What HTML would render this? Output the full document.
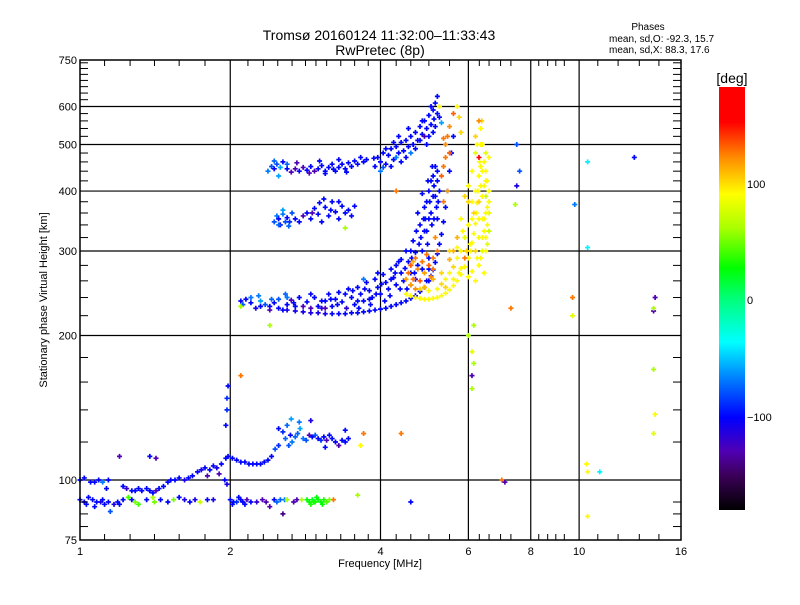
<!DOCTYPE html>
<html><head><meta charset="utf-8"><style>
body{margin:0;background:#fff;}
svg text{font-family:"Liberation Sans",sans-serif;fill:#000;}
</style></head><body>
<svg id="chart" width="800" height="600" viewBox="0 0 800 600" xmlns="http://www.w3.org/2000/svg">
<defs>
<linearGradient id="cbar" x1="0" y1="1" x2="0" y2="0">
<stop offset="0" stop-color="#000"/>
<stop offset="0.083" stop-color="#3c005a"/>
<stop offset="0.139" stop-color="#5000b4"/>
<stop offset="0.219" stop-color="#0000ff"/>
<stop offset="0.306" stop-color="#0078ff"/>
<stop offset="0.397" stop-color="#00ffff"/>
<stop offset="0.5" stop-color="#00ff78"/>
<stop offset="0.572" stop-color="#00ff00"/>
<stop offset="0.667" stop-color="#aaff00"/>
<stop offset="0.747" stop-color="#ffff00"/>
<stop offset="0.833" stop-color="#ff8c00"/>
<stop offset="0.917" stop-color="#ff0000"/>
<stop offset="1" stop-color="#ff0000"/>
</linearGradient>
</defs>
<text x="379" y="40" font-size="14" text-anchor="middle">Tromsø 20160124 11:32:00–11:33:43</text>
<text x="380" y="55" font-size="14" text-anchor="middle">RwPretec (8p)</text>
<g font-size="10">
<text x="648" y="30" text-anchor="middle">Phases</text>
<text x="609" y="42">mean, sd,O: -92.3, 15.7</text>
<text x="609" y="53">mean, sd,X:  88.3, 17.6</text>
</g>
<g id="grid"></g>
<g id="marks"></g>
<rect x="80" y="60" width="601" height="480" fill="none" stroke="#000" stroke-width="1.5"/>
<g id="axes"></g>
<text x="380" y="567" font-size="11" text-anchor="middle">Frequency [MHz]</text>
<text transform="translate(47,300) rotate(-90)" font-size="11" text-anchor="middle">Stationary phase Virtual Height [km]</text>
<rect x="719" y="87" width="26" height="423" fill="url(#cbar)"/>
<text x="732" y="83" font-size="14" text-anchor="middle">[deg]</text>
<text x="747" y="188" font-size="11">100</text>
<text x="747" y="304" font-size="11">0</text>
<text x="747" y="421" font-size="11">−100</text>
</svg>
<script>
const xMajorTicks = [1,2,4,6,8,10,16];
const xMajorLabels = ["1","2","4","6","8","10","16"];
const xMinorTicks = [1.12,1.26,1.41,1.58,1.78,2.17,2.33,2.49,2.66,2.83,2.97,3.12,3.33,3.55,3.78,4.3,4.6,5.0,5.5,6.31,6.6,6.96,7.3,8.3,8.65,8.98,9.34,10.9,11.97,13.2,14.45];
const yMajorTicks = [75,100,200,300,400,500,600,750];
const yMajorLabels = ["75","100","200","300","400","500","600","750"];
const yGrid = [100,200,300,400,500,600];
const yMinorTicks = [80,85,90,120,140,160,180,220,240,260,280,320,340,360,380,420,440,460,480,520,540,560,580,620,640,660,680,700,720,740];

const eLowPoints = [[1.0,91,-100],[1.02,90,-100],[1.04,92,-100],[1.06,91,-100],[1.08,90,-100],[1.1,90,-110],[1.12,89,-100],[1.14,90,-100],[1.17,89,-110],[1.19,90,-100],[1.22,91,-100],[1.25,92,40],[1.27,91,-100],[1.29,90,50],[1.31,89,40],[1.36,91,-100],[1.4,92,60],[1.41,90,50],[1.45,91,-100],[1.5,90,-100],[1.54,91,50],[1.58,92,-100],[1.62,91,-110],[1.66,90,-100],[1.7,91,-110],[1.74,90,70],[1.8,91,-100],[1.85,91,-110],[2.0,91,-100],[2.03,90,-100],[2.06,90,-90],[2.1,91,-100],[2.12,90,-100],[2.16,91,-130],[2.2,90,-100],[2.26,90,-120],[2.32,91,-130],[2.36,90,-130],[2.4,88,-130],[2.45,91,-100],[2.52,91,-75],[2.57,91,-70],[2.6,91,60],[2.68,90,-130],[2.72,91,-130],[2.78,91,60],[2.85,91,25],[2.88,90,25],[2.92,91,20],[2.96,90,30],[3.0,91,25],[3.04,90,25],[3.08,91,30],[3.12,90,40],[3.16,91,50],[3.22,91,125],[3.6,93,60],[2.55,85,-140],[1.07,88,-100],[1.15,86,-80],[2.02,89,-100],[2.08,92,-100],[2.9,89,30],[2.98,92,25],[1.03,89,-100],[1.11,91,-100],[1.2,89,-100],[2.14,89,-100],[2.48,90,-75],[3.06,89,25],[2.94,90,30]];
const eUpperPoints = [[1.0,100,-100],[1.02,101,-100],[1.05,99,-100],[1.07,99,-100],[1.09,100,-100],[1.11,99,-70],[1.14,100,-100],[1.13,96,-100],[1.22,97,-100],[1.24,96,-120],[1.27,95,-100],[1.29,95,-100],[1.31,96,-100],[1.33,95,-100],[1.36,96,-100],[1.38,95,-100],[1.40,94,-100],[1.42,95,-130],[1.44,96,-100],[1.47,97,-100],[1.5,99,-100],[1.52,100,-100],[1.55,100,-100],[1.58,101,-100],[1.62,100,-110],[1.65,101,-100],[1.68,102,-100],[1.72,104,-100],[1.75,105,-110],[1.78,106,-100],[1.82,105,-100],[1.85,107,-100],[1.88,106,-110],[1.92,108,-100],[1.96,111,-100],[1.98,112,-100],[2.02,111,-100],[2.06,110,-100],[2.1,109,-100],[2.14,109,-100],[2.18,108,-100],[2.22,108,-100],[2.26,108,-100],[2.3,108,-100],[2.34,109,-100],[2.38,110,-100],[2.42,112,-100],[2.46,116,-80],[2.5,118,-90],[1.38,112,-100],[1.42,111,-130],[1.2,112,-130],[1.8,102,-130],[1.9,103,-130],[1.95,100,-100],[1.97,98,-110],[1.96,130,-100],[1.97,140,-90],[1.97,148,-90],[1.98,157,-100]];
const eHighPoints = [[2.5,128,-100],[2.55,126,-90],[2.58,122,-75],[2.6,130,-75],[2.64,124,-100],[2.66,120,-70],[2.7,123,-75],[2.73,125,-75],[2.76,128,-60],[2.8,122,-70],[2.84,121,-80],[2.88,124,-130],[2.92,123,-100],[2.96,124,-80],[3.0,122,-100],[3.04,121,-90],[3.08,123,-100],[3.12,121,-130],[3.16,124,-100],[3.2,122,-100],[3.25,120,-100],[3.3,118,-130],[3.35,121,-100],[3.4,120,-100],[3.45,122,-100],[2.65,134,-60],[2.75,132,-70],[2.9,133,-110],[3.4,127,-100],[2.62,118,-80],[3.1,117,-100]];
const fLowTracePoints = [[2.1,236,-100],[2.2,234,-100],[2.3,230,-100],[2.4,230,-100],[2.5,228,-100],[2.6,226,-110],[2.7,225,-110],[2.8,224,-110],[2.9,223,-110],[3.0,223,-110],[3.1,222,-110],[3.2,222,-100],[3.3,222,-100],[3.4,222,-100],[3.5,223,-100],[3.6,223,-100],[3.7,224,-100],[3.8,225,-100],[3.9,226,-100],[4.0,227,-100],[4.1,228,-100],[4.2,230,-100],[4.3,232,-100],[4.4,234,-100],[4.5,236,-100],[4.6,239,-100],[4.7,242,-100],[4.8,247,-100],[4.9,252,-100],[5.0,260,-100],[5.05,266,-100],[5.1,274,-100],[5.15,284,-100],[5.2,296,-100],[5.25,310,-100],[5.3,325,-100],[5.35,345,-100],[5.4,370,-100],[5.45,400,-100],[5.5,440,-100],[5.55,480,-100],[5.6,520,-100]];
const fCloudPoints = [[2.15,238,-100],[2.2,240,-70],[2.3,236,-60],[2.35,232,-80],[2.45,234,-100],[2.5,238,-80],[2.6,232,-100],[2.65,237,-130],[2.7,230,-100],[2.75,240,-100],[2.85,235,-100],[2.95,240,-100],[3.0,230,-100],[3.05,236,-100],[3.15,244,-100],[3.2,230,-100],[3.25,238,-100],[3.3,246,-100],[3.35,235,-100],[3.45,250,-100],[3.5,240,-100],[3.55,232,-100],[3.6,252,-100],[3.65,244,-100],[3.7,236,-100],[3.75,258,-100],[3.8,248,-100],[3.85,240,-100],[3.9,262,-100],[3.95,252,-100],[4.0,244,-100],[4.05,268,-100],[4.1,258,-100],[4.15,250,-100],[4.2,275,-100],[4.25,264,-100],[4.3,255,-100],[4.35,285,-100],[4.4,270,-100],[4.45,260,-100],[4.5,300,-100],[4.55,285,-100],[4.6,270,-100],[4.65,315,-100],[4.7,298,-100],[4.75,280,-100],[4.8,340,-100],[4.82,320,-100],[4.85,300,-100],[4.9,370,-100],[4.92,350,-100],[4.95,330,-100],[4.97,310,-100],[5.0,400,-100],[5.02,380,-100],[5.05,360,-100],[5.07,340,-100],[5.1,430,-100],[5.12,410,-100],[5.15,390,-100],[5.18,370,-100],[5.2,350,-100],[5.15,450,-100],[5.2,420,-100],[5.25,400,-100],[5.0,290,-100],[4.6,255,-130],[2.9,228,-130],[3.1,228,-130],[2.6,240,-70],[2.4,226,-130],[4.95,260,-100],[5.0,275,-100],[3.1,236,-100],[3.4,244,-100],[3.8,238,-100],[4.2,262,-100],[4.4,288,-100],[4.6,300,-100],[4.75,360,-100],[4.85,395,-100],[2.25,228,-110],[2.55,226,-100],[3.6,236,-100]];
const fCloudExtraPoints = [[2.12,232,-80],[2.28,242,-70],[2.42,238,-75],[2.58,244,-75],[2.68,234,-100],[2.8,230,-130],[2.9,244,-100],[3.05,228,-120],[3.18,238,-100],[3.28,232,-100],[3.42,228,-120],[3.52,248,-100],[3.62,228,-100],[3.72,250,-100],[3.82,232,-100],[3.92,244,-100],[4.02,256,-100],[4.08,236,-100],[4.18,242,-100],[4.28,270,-100],[4.38,250,-100],[4.48,276,-100],[4.52,250,-100],[4.62,290,-100],[4.68,270,-100],[4.72,330,-100],[4.78,310,-100],[4.88,350,-100],[4.9,330,-100],[4.95,380,-100],[5.0,350,-100],[5.05,420,-100],[5.1,390,-100],[5.12,350,-100],[5.2,440,-100],[5.22,380,-100],[4.98,420,-100],[5.08,450,-100],[4.85,275,-100],[4.7,262,-130],[4.3,280,-100],[3.95,270,-100],[3.7,262,-70]];
const fUpperPoints = [[3.9,450,-100],[3.95,470,-100],[4.0,460,-100],[4.05,480,-100],[4.1,455,-100],[4.15,475,-100],[4.2,490,-100],[4.25,465,-100],[4.3,495,-100],[4.35,480,-100],[4.4,505,-100],[4.45,485,-100],[4.5,510,-100],[4.55,495,-100],[4.6,520,-100],[4.65,500,-100],[4.7,530,-100],[4.75,510,-100],[4.8,545,-100],[4.85,525,-100],[4.9,560,-100],[4.95,540,-100],[5.0,575,-100],[5.05,550,-100],[5.1,590,-100],[5.12,565,-100],[5.15,610,-100],[5.2,580,-100],[5.25,600,90],[5.2,630,-100],[5.3,555,-60],[4.95,500,-100],[4.5,470,-100],[4.2,450,-100],[5.05,600,-100],[5.1,530,-100],[4.0,440,-70],[4.3,470,-70],[4.7,490,-100],[4.9,520,-130],[5.15,545,-100],[4.1,490,-100],[3.88,468,-100],[4.05,448,-80],[4.25,505,-100],[4.4,460,-100],[4.6,480,-70],[4.8,510,-100],[5.0,520,-100],[5.25,570,-100],[4.85,560,-100],[4.55,540,-100],[4.35,520,-100]];
const f450Points = [[2.38,440,-70],[2.42,450,-80],[2.45,445,-100],[2.48,455,-80],[2.52,448,-60],[2.55,460,-100],[2.6,445,-100],[2.65,438,-130],[2.7,445,-130],[2.75,440,-100],[2.8,448,-130],[2.85,442,-100],[2.9,450,-100],[2.95,440,-130],[3.0,445,-100],[3.05,452,-100],[3.1,440,-100],[3.15,448,-100],[3.2,455,-100],[3.25,440,-100],[3.3,448,-100],[3.35,455,-100],[3.4,445,-100],[3.45,458,-100],[3.5,450,-100],[3.55,462,-100],[3.6,455,-100],[3.65,470,-100],[3.7,460,-100],[3.75,465,-100],[2.5,430,-60],[3.1,435,-100],[3.3,465,-100],[2.6,455,-75],[2.45,462,-75],[2.72,458,-130],[2.88,436,-130],[3.02,462,-100],[3.22,444,-100],[3.42,438,-100]];
const f350Points = [[2.45,345,-80],[2.48,355,-70],[2.5,350,-100],[2.52,340,-100],[2.55,358,-70],[2.58,345,-80],[2.6,352,-100],[2.63,345,-90],[2.66,360,-80],[2.7,350,-100],[2.75,345,-100],[2.8,355,-130],[2.85,360,-100],[2.9,350,-100],[2.95,368,-100],[3.0,358,-100],[3.02,378,-100],[3.05,345,-100],[3.1,370,-100],[3.15,355,-100],[3.2,380,-100],[3.25,362,-100],[3.3,350,-100],[3.35,372,-100],[3.4,360,-100],[3.45,365,-100],[3.5,355,-100],[3.55,372,-100],[3.08,385,-100],[2.55,365,-60],[2.5,340,-75],[2.62,338,-75],[3.18,365,-100],[3.3,380,-100],[2.92,360,-130]];
const xTracePoints = [[4.5,244,90],[4.6,242,90],[4.7,240,90],[4.8,239,90],[4.9,238,90],[5.0,238,90],[5.1,239,90],[5.2,240,90],[5.3,242,90],[5.4,245,90],[5.5,249,90],[5.6,254,90],[5.7,260,90],[5.8,268,90],[5.9,278,90],[6.0,290,90],[6.05,300,90],[6.1,312,90],[6.15,326,90],[6.2,342,90],[6.22,360,90],[6.25,378,90],[6.27,400,90],[6.3,430,90],[6.32,460,90],[6.35,500,90],[6.35,540,90],[6.38,560,100]];
const xCloudPoints = [[5.2,250,90],[5.3,256,100],[5.4,262,90],[5.5,270,90],[5.6,278,100],[5.5,288,110],[5.7,290,90],[5.8,300,90],[5.9,320,80],[6.0,340,90],[5.8,350,90],[6.1,380,90],[6.0,410,90],[6.1,440,90],[5.9,390,100],[5.7,320,110],[5.6,300,110],[6.2,260,90],[6.3,280,90],[6.4,300,80],[6.5,320,90],[6.55,340,90],[6.6,360,80],[6.6,380,90],[6.6,400,90],[6.55,420,90],[6.5,440,90],[6.45,460,90],[6.6,330,70],[6.4,350,90],[6.3,380,100],[6.35,410,90],[6.4,440,90],[6.5,300,90],[6.6,470,90],[6.3,320,90],[6.45,270,90],[6.2,300,100],[5.9,290,125],[6.0,265,90],[6.1,272,90],[6.2,480,80],[6.4,500,90],[6.3,350,90],[6.5,390,70],[6.45,410,90],[6.55,370,90],[5.4,252,100],[5.6,262,90],[5.8,276,90],[6.05,310,90],[6.15,360,100],[6.4,320,90],[6.5,360,90],[6.4,390,90],[6.5,480,80],[5.95,300,100],[5.75,270,90],[6.25,290,90],[6.55,310,80],[5.3,270,100],[5.5,300,100],[5.7,305,90],[5.85,330,90],[6.1,350,90],[6.2,400,90],[6.0,380,100],[6.45,350,90],[6.35,450,90],[6.5,420,90],[6.25,500,90],[6.35,290,90],[6.45,330,90],[4.8,250,100],[5.0,248,90],[5.1,262,110]];
const orangePoints = [[4.55,270,125],[4.6,280,130],[4.65,262,125],[4.7,290,125],[4.75,275,120],[4.8,260,130],[4.85,285,125],[4.9,270,115],[4.95,295,125],[5.0,280,130],[5.05,265,120],[5.1,290,125],[4.7,250,120],[4.6,255,115],[5.2,300,125],[5.15,320,120],[5.3,430,130],[5.35,450,125],[5.4,470,125],[5.4,500,120],[5.45,520,125],[5.5,545,120],[5.45,400,115],[5.35,380,125],[5.6,580,130],[5.5,480,130],[5.7,600,90],[5.8,530,100],[5.75,570,100],[6.3,560,120],[6.2,520,100],[6.3,470,150],[5.35,515,125],[4.5,262,115],[4.65,285,110],[4.9,252,110],[5.1,275,125]];
const scatterPoints = [[7.5,500,-80],[7.6,440,-80],[7.5,410,-110],[7.45,375,60],[7.3,228,125],[6.1,185,80],[6.15,175,60],[6.1,165,-130],[6.1,155,60],[6.0,200,60],[6.15,210,60],[7.0,100,125],[7.1,99,-130],[9.8,375,-70],[10.4,460,-40],[10.4,305,-40],[10.4,104,90],[10.35,108,90],[10.4,84,90],[11.0,104,-40],[12.9,470,-100],[9.7,240,125],[9.7,220,80],[14.2,240,-130],[14.1,225,-130],[14.1,228,60],[14.1,170,60],[14.2,137,90],[14.1,125,80],[3.7,125,125],[2.1,165,125],[4.4,125,125],[4.3,400,125],[2.4,210,60],[2.1,230,60],[3.4,335,60],[4.6,90,-100],[3.65,118,90]];

const X0=80, X1=681, Y0=540, Y1=60;
function xScale(f){return X0+(X1-X0)*Math.log(f)/Math.log(16);}
function yScale(h){return Y0-(Y0-Y1)*Math.log10(h/75);}
const NS="http://www.w3.org/2000/svg";
const stops=[[-180,[0,0,0]],[-150,[60,0,90]],[-130,[80,0,180]],[-101,[0,0,255]],[-70,[0,120,255]],[-37,[0,255,255]],[0,[0,255,120]],[26,[0,255,0]],[60,[170,255,0]],[89,[255,255,0]],[120,[255,140,0]],[150,[255,0,0]],[180,[255,0,0]]];
function phaseColor(p){
  for(let i=0;i<stops.length-1;i++){
    const a=stops[i],b=stops[i+1];
    if(p<=b[0]){const t=Math.max(0,(p-a[0])/(b[0]-a[0]));
      return "rgb("+a[1].map((c,k)=>Math.round(c+(b[1][k]-c)*t)).join(",")+")";}
  }
  return "rgb(255,0,0)";
}
const grid=document.getElementById("grid"), axes=document.getElementById("axes"), marks=document.getElementById("marks");
function line(parent,x1,y1,x2,y2,w){
  const l=document.createElementNS(NS,"line");
  l.setAttribute("x1",x1);l.setAttribute("y1",y1);l.setAttribute("x2",x2);l.setAttribute("y2",y2);
  l.setAttribute("stroke","#000");l.setAttribute("stroke-width",w||1);
  parent.appendChild(l);return l;
}
function text(parent,x,y,s,anchor){
  const t=document.createElementNS(NS,"text");
  t.setAttribute("x",x);t.setAttribute("y",y);t.setAttribute("font-size","11");t.setAttribute("text-anchor",anchor);
  t.textContent=s;parent.appendChild(t);return t;
}
xMajorTicks.forEach((f,i)=>{
  const x=xScale(f);
  if(f>1&&f<16){const g=line(grid,x,Y1,x,Y0,1.2);
    
    }
  const t=text(axes,x,Y0+15,xMajorLabels[i],"middle");
  
  
});
xMinorTicks.forEach(f=>{const x=xScale(f);
  line(axes,x,Y0,x,Y0-6,1);line(axes,x,Y1,x,Y1+6,1);});
yGrid.forEach(h=>{const y=yScale(h);
  const g=line(grid,X0,y,X1,y,1.2);
  
  });
yMajorTicks.forEach((h,i)=>{const y=yScale(h);
  const t=text(axes,X0-3,y+4,yMajorLabels[i],"end");
  
  });
yMinorTicks.forEach(h=>{const y=yScale(h);
  line(axes,X0,y,X0+8,y,1);line(axes,X1,y,X1-8,y,1);});
const allSets=[eLowPoints,eUpperPoints,eHighPoints,fLowTracePoints,fCloudPoints,fCloudExtraPoints,fUpperPoints,f450Points,f350Points,xTracePoints,xCloudPoints,orangePoints,scatterPoints];
allSets.forEach(set=>set.forEach(p=>{
  const x=xScale(p[0]), y=yScale(p[1]);
  const m=document.createElementNS(NS,"path");
  m.setAttribute("d","M"+(x-2.5)+" "+y+"h5M"+x+" "+(y-2.5)+"v5");
  m.setAttribute("stroke",phaseColor(p[2]));
  m.setAttribute("stroke-width","1.7");
  
  
  marks.appendChild(m);
}));
</script>
</body></html>
